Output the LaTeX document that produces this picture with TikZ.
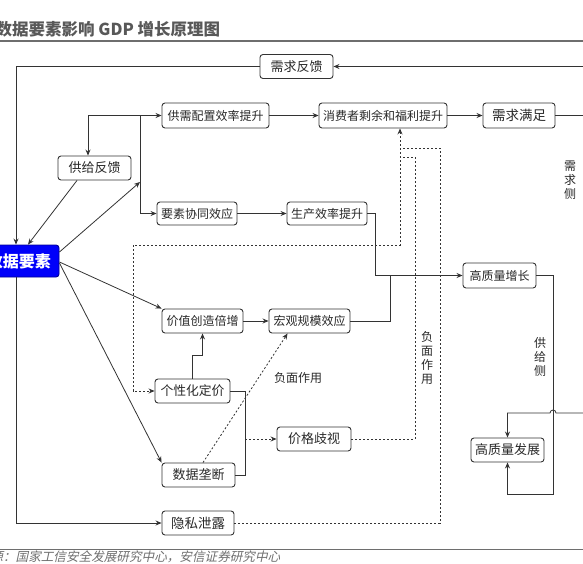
\documentclass[tikz,border=0pt]{standalone}
\usepackage{fontspec}
\setmainfont{Noto Sans CJK SC}
\newfontfamily\srcfont{Noto Sans CJK SC}[FakeSlant=0.22]
\usetikzlibrary{arrows.meta}
\definecolor{linegray}{RGB}{51,51,51}
\definecolor{txtgray}{RGB}{40,40,40}
\definecolor{rulegray}{RGB}{110,110,110}
\definecolor{keyblue}{RGB}{0,0,250}
\newcommand{\fsz}[1]{\fontsize{#1}{#1}\selectfont}

\begin{document}
\begin{tikzpicture}[x=1pt,y=-1pt,
  box/.style={draw=linegray,line width=0.9pt,rounded corners=3pt,inner sep=0pt,
    minimum height=24pt,text=txtgray,font=\fsz{12}},
  keybox/.style={box,draw=keyblue!60!black,fill=keyblue,text=white,font=\fsz{16}\bfseries},
  vlabel/.style={align=center,text=txtgray,font=\fontsize{12}{14}\selectfont,inner sep=0pt},
  link/.style={draw=linegray,line width=0.8pt},
  arr/.style={link,-{Stealth[length=6pt,width=5pt]}},
  dsh/.style={link,dash pattern=on 2pt off 2pt}]
  \clip (0,0) rectangle (583,564);
  % header and footer
  \node[anchor=west,inner sep=0pt,text=rulegray!80!black,font=\fsz{16.5}\bfseries] (title) at (-4.5,29) {数据要素影响 GDP 增长原理图};
  \draw[rulegray,line width=1.2pt] (0,41) -- (583,41);
  \draw[rulegray,line width=0.8pt] (0,549) -- (583,549);
  \node[anchor=west,inner sep=0pt,text=rulegray,font=\fsz{12.6}\srcfont] (src) at (-47.5,557) {资料来源：国家工信安全发展研究中心，安信证券研究中心};

  % boxes
  \node[keybox,minimum width=80pt,minimum height=32pt] (sjys) at (19,261) {数据要素};
  \node[box,minimum width=73pt,font=\fsz{13}] (xqfk) at (296.5,66.5) {需求反馈};
  \node[box,minimum width=107pt,minimum height=25pt] (gxpz) at (215.5,115.5) {供需配置效率提升};
  \node[box,minimum width=73pt,font=\fsz{13}] (gjfk) at (94.5,168) {供给反馈};
  \node[box,minimum width=80pt,minimum height=23pt] (ysxt) at (197,213.5) {要素协同效应};
  \node[box,minimum width=80pt,minimum height=23pt] (scxl) at (327,213.5) {生产效率提升};
  \node[box,minimum width=128pt,minimum height=25pt] (xfz) at (383,115.5) {消费者剩余和福利提升};
  \node[box,minimum width=72pt,minimum height=25pt,font=\fsz{13.5}] (xqmz) at (519,115.5) {需求满足};
  \node[box,minimum width=73pt,minimum height=25pt] (gzlzz) at (499.5,275.5) {高质量增长};
  \node[box,minimum width=81pt] (hggm) at (309.5,321) {宏观规模效应};
  \node[box,minimum width=81pt] (jzcz) at (202.5,321) {价值创造倍增};
  \node[box,minimum width=75pt,font=\fsz{12.8}] (gxhdj) at (192.5,391) {个性化定价};
  \node[box,minimum width=73pt,font=\fsz{13}] (sjld) at (198.5,475) {数据垄断};
  \node[box,minimum width=74pt,font=\fsz{13}] (jgqs) at (314,439) {价格歧视};
  \node[box,minimum width=72pt,font=\fsz{13.5}] (ysxl) at (198,523) {隐私泄露};
  \node[box,minimum width=73pt,font=\fsz{13}] (gzlfz) at (507.5,450) {高质量发展};

  % labels
  \node[vlabel] (xqc) at (570,180) {需\\求\\侧};
  \node[vlabel] (gjc) at (540,357) {供\\给\\侧};
  \node[vlabel] (fmzy1) at (427,358) {负\\面\\作\\用};
  \node[text=txtgray,font=\fsz{12},inner sep=0pt] (fmzy2) at (298,378) {负面作用};

  % free ends and junctions
  \coordinate (rt1) at (583,66.5);
  \coordinate (rt2) at (583,115.5);
  \coordinate (rt3) at (583,413);
  \coordinate (j1) at (140,115.5);
  \coordinate (j2) at (140,182);
  \coordinate (j3) at (245,439);
  \coordinate (d1) at (400,157);
  \coordinate (d2) at (400,148);
  \coordinate (d3) at (133,245);

  % demand side
  \draw[arr] (rt1) -- (xqfk.east);
  \draw[arr] (xqfk.west) -| ([xshift=-3pt]sjys.north);
  \draw[arr] ([xshift=-3pt]sjys.south) |- (ysxl.west);
  \draw[link] (xqmz.east) -- (rt2);
  \draw[arr] (j1) -- (gxpz.west);
  \draw[arr] (j1) -| ([xshift=-6.5pt]gjfk.north);
  \draw[arr] (j1) |- (ysxt.west);
  \draw[arr] ([yshift=9pt]sjys.east) -- (j2);
  \draw[arr] ([xshift=-17.5pt]gjfk.south) -- ([xshift=9pt]sjys.north);
  \draw[arr] (gxpz) -- (xfz);
  \draw[arr] (xfz) -- (xqmz);
  \draw[arr] (ysxt) -- (scxl);

  % supply side
  \draw[arr] (scxl.east) -- ++(8,0) |- (gzlzz.west);
  \draw[link] (hggm.east) -| ([xshift=-72pt]gzlzz.west);
  \draw[arr] ([yshift=-1pt]sjys.east) -- (jzcz.north west);
  \draw[arr] ([yshift=-2pt]sjys.east) -- (sjld.north west);
  \draw[arr] (jzcz) -- (hggm);
  \draw[arr] (gxhdj.north) -- ++(0,-23) -| (jzcz.south);
  \draw[link] (gxhdj.east) -- ++(15,0) |- (sjld.east);
  \draw[arr,dsh] (j3) -- (jgqs.west);
  \draw[arr,dsh] ([xshift=4.5pt]sjld.north) -- ([xshift=19pt]hggm.south west);
  \draw[dsh] (jgqs.east) -| ([xshift=15pt]d1) -- (d1);
  \draw[dsh] (ysxl.east) -| ([xshift=40pt]d2) -- (d2);
  \draw[dsh,{Stealth[length=6pt,width=5pt]}-{Stealth[length=6pt,width=5pt]}] ([xshift=17pt]xfz.south) |- (d3) |- (gxhdj.west);

  % high quality development
  \draw[arr] (gzlzz.east) -- ++(17,0) -- ++(0,218.5) -| (gzlfz.south);
  \draw[arr] (rt3) -- ++(-27,0) arc[start angle=0,end angle=180,radius=3pt] -| (gzlfz.north);
\end{tikzpicture}
\end{document}
